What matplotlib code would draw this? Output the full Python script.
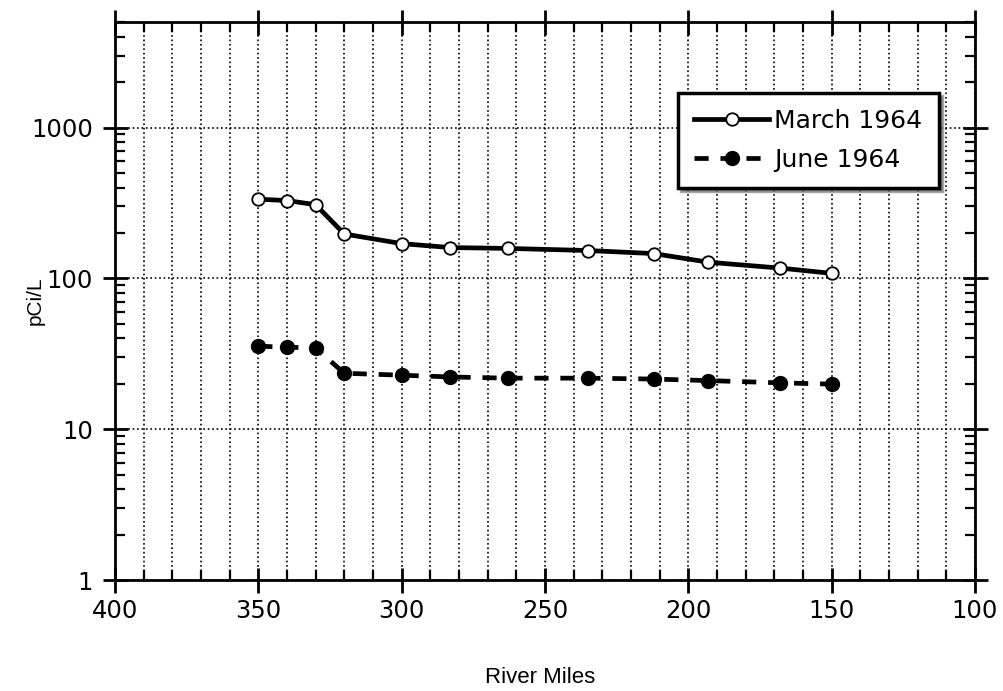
# coding=utf-8
import matplotlib.pyplot as plt
from matplotlib.ticker import FixedLocator, LogLocator, NullFormatter

# River miles of the sampling stations
miles = [350, 340, 330, 320, 300, 283, 263, 235, 212, 193, 168, 150]

# pCi/L readings
march_1964 = [335, 328, 308, 197, 170, 160, 158, 153, 146, 128, 117, 108]
june_1964 = [35.5, 35, 34.5, 23.5, 22.8, 22.2, 21.8, 21.8, 21.5, 21, 20.3, 19.9]

x_ticks = [400, 350, 300, 250, 200, 150, 100]
y_ticks = [1, 10, 100, 1000]


def plot_profile():
    plt.rcParams['font.family'] = ['DejaVu Sans']

    fig = plt.figure(figsize=(10.04, 6.91), dpi=100)
    ax = fig.add_axes([0.1145, 0.1606, 0.8565, 0.8074])

    ax.plot(miles, march_1964, '-o', color='black', lw=3.4,
            markerfacecolor='white', markeredgecolor='black',
            markeredgewidth=1.3, markersize=9, label='March 1964')
    ax.plot(miles, june_1964, '--o', color='black', lw=3.4,
            dashes=(3, 2.5), markersize=10, label='June 1964')

    ax.set_yscale('log')
    ax.set_xlim(400, 100)
    ax.set_ylim(1, 5000)

    ax.set_xticks(x_ticks)
    ax.xaxis.set_minor_locator(FixedLocator(range(110, 400, 10)))
    ax.set_yticks(y_ticks)
    ax.set_yticklabels([str(v) for v in y_ticks])
    ax.yaxis.set_minor_locator(LogLocator(base=10, subs=range(2, 10)))
    ax.yaxis.set_minor_formatter(NullFormatter())

    ax.tick_params(which='major', direction='inout', length=18, width=2,
                   top=True, right=True, labelsize=17.5)
    ax.tick_params(axis='x', which='major', pad=5)
    ax.tick_params(axis='y', which='major', pad=7)
    ax.tick_params(which='minor', direction='in', length=7, width=1.6,
                   top=True, right=True)

    ax.grid(True, which='major', axis='y', color='black', ls=':', lw=1.2)
    ax.grid(True, which='both', axis='x', color='black', ls=':', lw=1.2)

    for sp in ax.spines.values():
        sp.set_linewidth(2)

    # axis titles
    fig.text(0.035, 0.565, 'pCi/L', fontsize=15, family='Liberation Sans',
             rotation=90, ha='center', va='center')
    fig.text(0.538, 0.02, 'River Miles', fontsize=16, family='Liberation Sans',
             ha='center', va='center')

    leg = ax.legend(loc='upper right', bbox_to_anchor=(0.958, 0.873),
                    borderaxespad=0, fancybox=False, shadow=True, fontsize=18,
                    edgecolor='black', framealpha=1, handlelength=3.0,
                    borderpad=0.65, labelspacing=0.6, handletextpad=0.2)
    leg.get_frame().set_linewidth(2.5)

    fig.savefig('out.png', dpi=100)


def main():
    plot_profile()


if __name__ == '__main__':
    main()
